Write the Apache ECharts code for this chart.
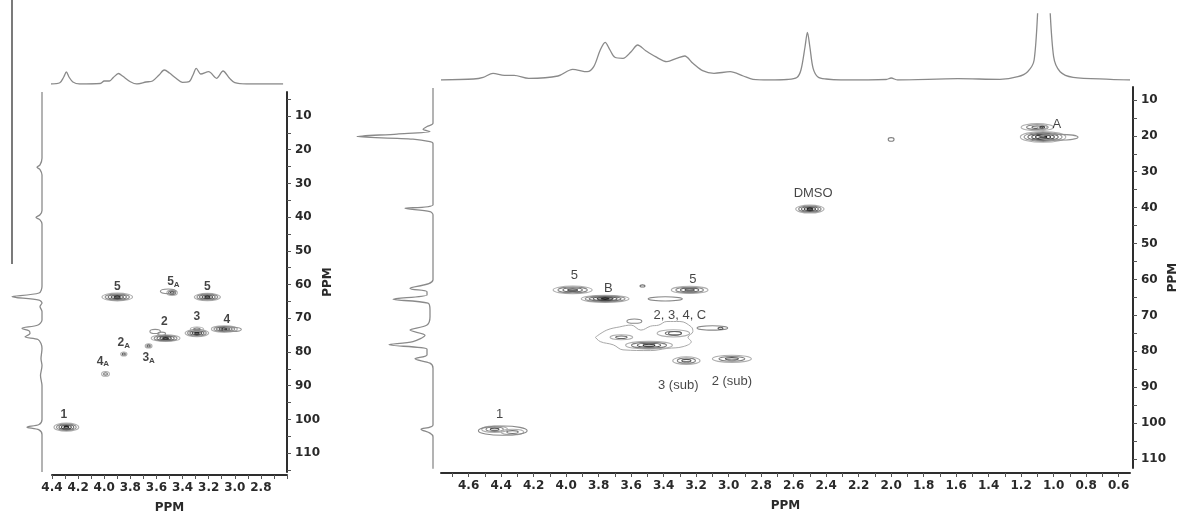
<!DOCTYPE html>
<html>
<head>
<meta charset="utf-8">
<script src="https://cdn.jsdelivr.net/npm/echarts@6/dist/echarts.min.js"></script>
<style>
  html, body { margin: 0; padding: 0; background: #ffffff; }
  #chart { width: 1180px; height: 516px; }
</style>
</head>
<body>
<div id="chart"></div>
<script>
// ---------- Left spectrum: 1H projection [ppm, intensity] ----------
const leftProton = [
  [4.41,0],[4.34,1.3],[4.31,7],[4.29,12],[4.27,7],[4.24,2],[4.19,0],[4.03,0.5],[4.00,3],[3.96,3],
  [3.93,6.5],[3.89,10.5],[3.86,8],[3.80,2.3],[3.75,0],[3.68,2],[3.63,3],[3.58,9],[3.54,14],[3.50,11],
  [3.45,5.7],[3.40,1.7],[3.35,2.3],[3.32,9],[3.295,15.7],[3.26,10],[3.20,12.3],[3.14,5.7],[3.09,13],
  [3.04,5.7],[3.00,1.3],[2.91,0],[2.63,0]
];
// ---------- Left spectrum: 13C projection [intensity, ppm] ----------
const leftCarbon = [
  [0,2.9],[0,22.5],[2,24.5],[5,25.2],[2,25.9],[0,27.5],[0,38],[2,39.3],[6,40.1],[2,40.8],[0,42],
  [0,60.5],[3,62.5],[30,63.6],[3,64.6],[0,65.5],[2,66.5],[0,68],[0,70.5],[4,72],[20,73],[13,73.7],
  [12,74.5],[17,75.5],[4,76.3],[1,77.5],[0,79],[1,82],[0,84],[1.5,87],[0,90],[0,100],[3,101.5],
  [15,102.3],[3,103.1],[0,104.5],[0,115.6]
];
// Cross peaks: [1H ppm, 13C ppm, 1H half-width, 13C half-width, contour levels, intensity 0..1]
const leftPeaks = [
  [4.29,102.3,0.095,1.2,5,0.9],
  [3.90,63.7,0.117,1.15,5,0.85],
  [3.48,62.4,0.04,0.8,3,0.7],
  [3.51,62.0,0.06,0.7,1,0.2],
  [3.21,63.7,0.10,1.1,5,0.85],
  [3.53,75.9,0.11,1.0,5,0.85],
  [3.61,73.9,0.04,0.6,1,0.2],
  [3.56,74.6,0.03,0.5,1,0.2],
  [3.29,74.4,0.09,1.1,5,0.85],
  [3.29,73.2,0.05,0.6,2,0.3],
  [3.08,73.2,0.10,0.95,5,0.8],
  [3.02,73.3,0.07,0.6,1,0.2],
  [3.85,80.6,0.024,0.6,2,0.5],
  [3.66,78.2,0.026,0.6,2,0.5],
  [3.99,86.5,0.03,0.7,2,0.4]
];
// Assignments: [text (subscript after "_"), 1H ppm, 13C ppm]
const leftLabels = [
  ['1',4.31,98.7],['5',3.90,60.7],['5_A',3.47,59.3],['5',3.21,60.7],['2',3.54,71.1],
  ['3',3.29,69.6],['4',3.06,70.5],['2_A',3.85,77.4],['3_A',3.66,81.8],['4_A',4.01,82.9]
];
const leftXTicks = [2.6,2.7,2.8,2.9,3.0,3.1,3.2,3.3,3.4,3.5,3.6,3.7,3.8,3.9,4.0,4.1,4.2,4.3,4.4];
const leftXLabels = [2.8,3.0,3.2,3.4,3.6,3.8,4.0,4.2,4.4];
const leftYTicks = [5,10,15,20,25,30,35,40,45,50,55,60,65,70,75,80,85,90,95,100,105,110,115];
const leftYLabels = [10,20,30,40,50,60,70,80,90,100,110];

// ---------- Right spectrum: 1H projection ----------
const rightProton = [
  [4.77,0],[4.57,1],[4.51,2.7],[4.45,6.7],[4.38,4.7],[4.32,4.7],[4.23,1.7],[4.05,4],[3.96,10.7],
  [3.87,8.3],[3.83,13.3],[3.79,30],[3.76,37.7],[3.73,30],[3.70,22.7],[3.65,21.7],[3.60,28.3],
  [3.56,35],[3.51,29.3],[3.45,23.3],[3.38,18.3],[3.32,21.7],[3.27,24],[3.22,16.7],[3.16,9.3],
  [3.09,6.7],[2.99,8.3],[2.91,4],[2.85,0.7],[2.75,0],[2.64,0.5],[2.58,2.5],[2.555,10],[2.53,33],
  [2.515,47.7],[2.50,33],[2.48,11.7],[2.45,3],[2.40,1],[2.31,0],[2.03,0.5],[2.00,2],[1.96,0],
  [1.59,1.3],[1.33,0.7],[1.22,3.3],[1.16,8.3],[1.12,20],[1.09,90],[1.06,140],[1.03,90],[1.00,23.3],
  [0.96,8.3],[0.88,2.7],[0.65,0.7],[0.53,0]
];
// ---------- Right spectrum: 13C projection ----------
const rightCarbon = [
  [0,6.7],[0,16.5],[6,17.4],[10,18.2],[3,18.8],[36,19.5],[76,20.2],[20,20.9],[3,21.6],[0,22.1],
  [0,39.2],[28,40.2],[3,41.1],[0,42],[0,60.1],[23,62.5],[6,63.4],[6,64.3],[40,65.5],[5,66.6],
  [3,68.5],[3,70.4],[6,72.7],[23,74.1],[8,75.5],[20,77.3],[44,78.2],[6,79.4],[6,81],[18,82.1],
  [3,83.3],[0,84.7],[0,100.5],[12,101.7],[3,102.8],[0,103.8],[0,113]
];
const rightPeaks = [
  [1.065,20.3,0.14,1.5,6,0.95],
  [0.97,20.4,0.12,0.8,1,0.2],
  [1.10,17.6,0.10,1.0,3,0.5],
  [1.07,17.6,0.03,0.5,2,0.7],
  [2.00,21.0,0.018,0.5,1,0.3],
  [2.50,40.4,0.087,1.1,5,0.95],
  [3.96,62.9,0.12,1.07,4,0.75],
  [3.76,65.4,0.147,1.0,6,0.95],
  [3.53,61.8,0.015,0.3,1,0.4],
  [3.39,65.4,0.105,0.6,1,0.25],
  [3.24,62.9,0.113,1.0,4,0.7],
  [3.58,71.6,0.046,0.6,1,0.25],
  [3.10,73.5,0.094,0.6,1,0.25],
  [3.05,73.6,0.015,0.3,1,0.6],
  [3.49,78.3,0.144,1.1,4,0.9],
  [3.66,76.1,0.07,0.7,2,0.5],
  [3.34,75.0,0.10,1.0,2,0.4],
  [3.33,75.0,0.04,0.5,1,0.5],
  [3.26,82.6,0.084,1.07,3,0.6],
  [2.98,82.1,0.12,1.0,3,0.6],
  [4.44,101.7,0.08,0.9,3,0.6],
  [4.33,102.5,0.07,0.8,2,0.4],
  [4.39,102.1,0.15,1.3,1,0.25]
];
// Lowest contour around the overlapping 2/3/4/C cluster [1H ppm, 13C ppm]
const clusterOutline = [
  [3.82,76.1],[3.75,74.1],[3.67,73.2],[3.60,72.7],[3.54,74.1],[3.48,73.0],[3.43,72.7],[3.38,71.7],
  [3.30,71.7],[3.23,73.2],[3.22,74.5],[3.25,76.1],[3.23,77.3],[3.28,78.7],[3.38,79.2],[3.48,79.8],
  [3.65,79.6],[3.71,78.2],[3.79,77.3],[3.82,76.1]
];
const rightLabels = [
  ['A',0.98,17.0],['DMSO',2.48,36.2],['5',3.95,59.0],['B',3.74,62.6],['5',3.22,60.1],
  ['2, 3, 4, C',3.30,70.2],['3 (sub)',3.31,89.7],['2 (sub)',2.98,88.6],['1',4.41,97.7]
];
const rightXTicks = [0.6,0.7,0.8,0.9,1.0,1.1,1.2,1.3,1.4,1.5,1.6,1.7,1.8,1.9,2.0,2.1,2.2,2.3,2.4,2.5,
  2.6,2.7,2.8,2.9,3.0,3.1,3.2,3.3,3.4,3.5,3.6,3.7,3.8,3.9,4.0,4.1,4.2,4.3,4.4,4.5,4.6,4.7];
const rightXLabels = [0.6,0.8,1.0,1.2,1.4,1.6,1.8,2.0,2.2,2.4,2.6,2.8,3.0,3.2,3.4,3.6,3.8,4.0,4.2,4.4,4.6];
const rightYTicks = [10,15,20,25,30,35,40,45,50,55,60,65,70,75,80,85,90,95,100,105,110];
const rightYLabels = [10,20,30,40,50,60,70,80,90,100,110];

// ---------- drawing helpers ----------
const AXIS = '#2e2e2e';
const TRACE = '#8a8a8a';
const tickFont = { fontFamily: 'DejaVu Sans', fontSize: 12, fontWeight: 'bold', color: '#2a2a2a' };

function contourItem(params, api) {
  const c = api.coord([api.value(0), api.value(1)]);
  const s = api.size([api.value(2), api.value(3)]);
  const levels = api.value(4);
  const tone = api.value(5);
  const outer = 175, inner = 175 - tone * (175 - 20);
  const children = [];
  for (let k = levels; k >= 1; k--) {
    const t = levels === 1 ? 1 : (levels - k) / (levels - 1);
    const g = Math.round(outer + (inner - outer) * t);
    children.push({
      type: 'ellipse',
      shape: { cx: c[0], cy: c[1], rx: Math.abs(s[0]) * k / levels, ry: Math.abs(s[1]) * k / levels },
      style: { fill: 'none', stroke: 'rgb(' + g + ',' + g + ',' + g + ')', lineWidth: 1.1 }
    });
  }
  return { type: 'group', children };
}

function labelData(list) {
  return list.map(d => ({ value: [d[1], d[2]], text: d[0] }));
}
function labelFormatter(p) {
  const parts = p.data.text.split('_');
  return parts.length > 1 ? '{n|' + parts[0] + '}{s|' + parts[1] + '}' : '{n|' + parts[0] + '}';
}

function ppmXAxis(grid, min, max, ticks, labels, offset) {
  return {
    gridIndex: grid, type: 'value', inverse: true, min: min, max: max, offset: offset,
    name: 'PPM', nameLocation: 'middle', nameGap: 27, nameMoveOverlap: false,
    nameTextStyle: { fontFamily: 'DejaVu Sans', fontSize: 12, fontWeight: 'bold', color: '#2a2a2a' },
    axisLine: { show: true, onZero: false, lineStyle: { color: AXIS, width: 2 } },
    axisTick: { show: true, customValues: ticks, length: 4, lineStyle: { color: '#555', width: 1 } },
    axisLabel: Object.assign({ customValues: labels, margin: 7, formatter: v => v.toFixed(1) }, tickFont),
    splitLine: { show: false }
  };
}
function ppmYAxis(grid, min, max, ticks, labels, offset, gap) {
  return {
    gridIndex: grid, type: 'value', position: 'right', inverse: true, min: min, max: max, offset: offset,
    name: 'PPM', nameLocation: 'middle', nameGap: gap, nameRotate: 90, nameMoveOverlap: false,
    nameTextStyle: { fontFamily: 'DejaVu Sans', fontSize: 12, fontWeight: 'bold', color: '#2a2a2a' },
    axisLine: { show: true, onZero: false, lineStyle: { color: AXIS, width: 2 } },
    axisTick: { show: true, customValues: ticks, length: 4, lineStyle: { color: '#555', width: 1 } },
    axisLabel: Object.assign({ customValues: labels, margin: 8, formatter: v => String(v) }, tickFont),
    splitLine: { show: false }
  };
}
function hiddenAxis(grid, min, max, inverse) {
  return { gridIndex: grid, type: 'value', min: min, max: max, inverse: inverse, show: false,
    splitLine: { show: false } };
}
function traceSeries(xi, yi, data) {
  return {
    type: 'line', xAxisIndex: xi, yAxisIndex: yi, data: data, showSymbol: false, symbol: 'none',
    smooth: 0.3, clip: true, silent: true,
    lineStyle: { color: TRACE, width: 1.3 }
  };
}
function contourSeries(xi, data) {
  return { type: 'custom', xAxisIndex: xi, yAxisIndex: xi, data: data, renderItem: contourItem,
    clip: true, silent: true, encode: { x: 0, y: 1 } };
}
function labelSeries(xi, list, font, weight) {
  return {
    type: 'scatter', xAxisIndex: xi, yAxisIndex: xi, data: labelData(list), symbolSize: 1,
    itemStyle: { color: 'rgba(0,0,0,0)' }, silent: true,
    label: {
      show: true, position: 'inside', formatter: labelFormatter,
      rich: {
        n: { fontFamily: 'Liberation Sans', fontSize: font, fontWeight: weight, color: '#151515',
             lineHeight: font + 1, verticalAlign: 'top' },
        s: { fontFamily: 'Liberation Sans', fontSize: 8, fontWeight: weight, color: '#151515',
             lineHeight: 9, padding: [7, 0, 0, 0], verticalAlign: 'bottom' }
      }
    }
  };
}
function panelGrid(left, top, width, height) {
  return { left: left, top: top, width: width, height: height, containLabel: false, outerBoundsMode: 'none' };
}

const chart = echarts.init(document.getElementById('chart'), null, { renderer: 'canvas' });
chart.setOption({
  animation: false,
  backgroundColor: '#ffffff',
  grid: [
    panelGrid(52, 92, 235, 380),    // left 2D
    panelGrid(52, 60, 235, 24),     // left 1H trace
    panelGrid(2, 92, 40, 380),      // left 13C trace
    panelGrid(441, 87, 689, 381),   // right 2D
    panelGrid(441, 14, 689, 66),    // right 1H trace
    panelGrid(353, 87, 80, 381)     // right 13C trace
  ],
  xAxis: [
    ppmXAxis(0, 2.6, 4.4, leftXTicks, leftXLabels, 3),
    hiddenAxis(1, 2.6, 4.4, true),
    hiddenAxis(2, 0, 40, true),
    ppmXAxis(3, 0.53, 4.77, rightXTicks, rightXLabels, 5),
    hiddenAxis(4, 0.53, 4.77, true),
    hiddenAxis(5, 0, 80, true)
  ],
  yAxis: [
    ppmYAxis(0, 2.88, 115.6, leftYTicks, leftYLabels, 0, 35),
    hiddenAxis(1, 0, 24, false),
    hiddenAxis(2, 2.88, 115.6, true),
    ppmYAxis(3, 6.4, 112.5, rightYTicks, rightYLabels, 3, 34),
    hiddenAxis(4, 0, 66, false),
    hiddenAxis(5, 6.4, 112.5, true)
  ],
  graphic: [
    { type: 'line', shape: { x1: 12, y1: 0, x2: 12, y2: 264 }, style: { stroke: '#222', lineWidth: 1.2 } }
  ],
  series: [
    traceSeries(1, 1, leftProton),
    traceSeries(2, 2, leftCarbon),
    contourSeries(0, leftPeaks),
    labelSeries(0, leftLabels, 12, 'bold'),
    traceSeries(4, 4, rightProton),
    traceSeries(5, 5, rightCarbon),
    {
      type: 'line', xAxisIndex: 3, yAxisIndex: 3, data: clusterOutline, symbol: 'none', smooth: 0.4,
      silent: true, lineStyle: { color: '#a8a8a8', width: 1 }
    },
    contourSeries(3, rightPeaks),
    labelSeries(3, rightLabels, 13, 'normal')
  ]
});
</script>
</body>
</html>
